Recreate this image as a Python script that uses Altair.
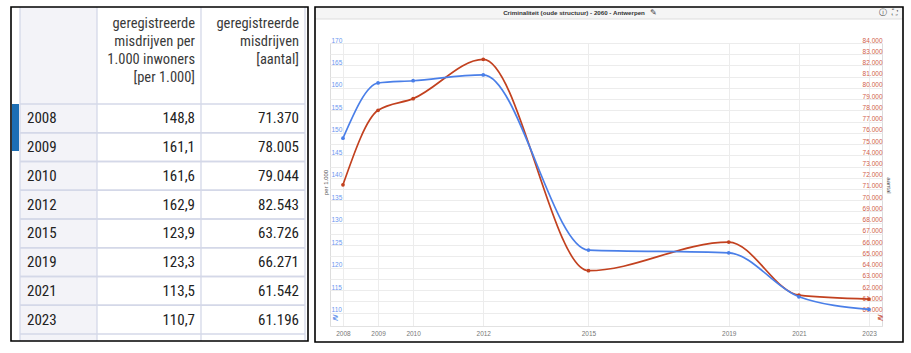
import altair as alt
import pandas as pd

# ---------------- data ----------------
years = [2008, 2009, 2010, 2012, 2015, 2019, 2021, 2023]
per_1000 = [148.8, 161.1, 161.6, 162.9, 123.9, 123.3, 113.5, 110.7]
aantal = [71370, 78005, 79044, 82543, 63726, 66271, 61542, 61196]

header_col2 = ["geregistreerde", "misdrijven per", "1.000 inwoners", "[per 1.000]"]
header_col3 = ["geregistreerde", "misdrijven", "[aantal]"]
chart_title = ["Criminaliteit (oude structuur) - 2060 - Antwerpen"]
left_title = "per 1.000"
right_title = "aantal"
left_ticks = [110, 115, 120, 125, 130, 135, 140, 145, 150, 155, 160, 165, 170]
right_ticks = [60000, 61000, 62000, 63000, 64000, 65000, 66000, 67000, 68000,
               69000, 70000, 71000, 72000, 73000, 74000, 75000, 76000, 77000,
               78000, 79000, 80000, 81000, 82000, 83000, 84000]

df = pd.DataFrame({"Jaar": years, "per1000": per_1000, "aantal": aantal})
df["per1000_txt"] = [f"{v:.1f}".replace(".", ",") for v in per_1000]
df["aantal_txt"] = [f"{v:,}".replace(",", ".") for v in aantal]
df["Jaar_txt"] = [str(y) for y in years]

one = pd.DataFrame({"k": [0]})

BLUE = "#4a7fe8"
RED = "#c2411f"
GRID = "#ececec"
TLINE = "#d4d8e8"
TFONT = "Liberation Sans Narrow, Roboto Condensed, DejaVu Sans Condensed, Roboto"
CFONT = "Liberation Sans"

# ---------------- table (left panel) ----------------
ROWY = alt.Y("Jaar:O", scale=alt.Scale(range=[61, 291], paddingInner=0, paddingOuter=0), axis=None)

col1_bg = alt.Chart(one).mark_rect(fill="#f3f3f8").encode(
    x=alt.value(-310), x2=alt.value(-233), y=alt.value(-36), y2=alt.value(298))
tab = alt.Chart(one).mark_rect(fill="#1c6eb4").encode(
    x=alt.value(-318), x2=alt.value(-311), y=alt.value(61), y2=alt.value(108))
vlines = [alt.Chart(one).mark_rule(color=TLINE, strokeWidth=1.3).encode(
    x=alt.value(xv), y=alt.value(-36), y2=alt.value(298)) for xv in (-310, -233, -129, -25)]
row_top = alt.Chart(df).mark_rule(color=TLINE, strokeWidth=1.3).encode(
    y=alt.Y("Jaar:O", bandPosition=0, scale=alt.Scale(range=[61, 291], paddingInner=0, paddingOuter=0), axis=None),
    x=alt.value(-310), x2=alt.value(-25))
row_bot = alt.Chart(df).mark_rule(color=TLINE, strokeWidth=1.3).encode(
    y=alt.Y("Jaar:O", bandPosition=1, scale=alt.Scale(range=[61, 291], paddingInner=0, paddingOuter=0), axis=None),
    x=alt.value(-310), x2=alt.value(-25))
txt_year = alt.Chart(df).mark_text(align="left", baseline="middle", fontSize=15, font=TFONT, color="#222").encode(
    x=alt.value(-303), y=ROWY, text="Jaar_txt:N")
txt_p = alt.Chart(df).mark_text(align="right", baseline="middle", fontSize=15, font=TFONT, color="#222").encode(
    x=alt.value(-135), y=ROWY, text="per1000_txt:N")
txt_a = alt.Chart(df).mark_text(align="right", baseline="middle", fontSize=15, font=TFONT, color="#222").encode(
    x=alt.value(-31), y=ROWY, text="aantal_txt:N")
hdr2 = alt.Chart(pd.DataFrame({"t": ["\n".join(header_col2)]})).mark_text(
    align="right", baseline="top", fontSize=14.5, lineHeight=18, lineBreak="\n", font=TFONT, color="#3a3a3a").encode(
    x=alt.value(-135), y=alt.value(-26), text="t:N")
hdr3 = alt.Chart(pd.DataFrame({"t": ["\n".join(header_col3)]})).mark_text(
    align="right", baseline="top", fontSize=14.5, lineHeight=18, lineBreak="\n", font=TFONT, color="#3a3a3a").encode(
    x=alt.value(-31), y=alt.value(-26), text="t:N")
table_frame = alt.Chart(one).mark_rect(fillOpacity=0, stroke="black", strokeWidth=1.6).encode(
    x=alt.value(-319), x2=alt.value(-22), y=alt.value(-36), y2=alt.value(298))

table = alt.layer(col1_bg, tab, *vlines, row_top, row_bot, txt_year, txt_p, txt_a, hdr2, hdr3, table_frame)

# ---------------- chart (right panel) ----------------
head_band = alt.Chart(one).mark_rect(fill="#f5f5f5").encode(
    x=alt.value(-15), x2=alt.value(573), y=alt.value(-36), y2=alt.value(-24))
head_line = alt.Chart(one).mark_rule(color="#dddddd").encode(
    x=alt.value(-15), x2=alt.value(573), y=alt.value(-24))
title_txt = alt.Chart(pd.DataFrame({"t": chart_title})).mark_text(
    fontSize=6.2, fontWeight="bold", font=CFONT, color="#333").encode(
    x=alt.value(244), y=alt.value(-30), text="t:N")
pencil = alt.Chart(pd.DataFrame({"t": ["✎"]})).mark_text(fontSize=8, color="#444").encode(
    x=alt.value(323), y=alt.value(-30), text="t:N")
info = alt.Chart(pd.DataFrame({"t": ["ⓘ"]})).mark_text(fontSize=8, color="#444").encode(
    x=alt.value(553), y=alt.value(-30), text="t:N")
full = alt.Chart(pd.DataFrame({"t": ["⛶"]})).mark_text(fontSize=8, color="#444").encode(
    x=alt.value(565), y=alt.value(-30), text="t:N")
brk_l = alt.Chart(pd.DataFrame({"t": ["≷"]})).mark_text(fontSize=8, color=BLUE).encode(
    x=alt.value(5), y=alt.value(275), text="t:N")
brk_r = alt.Chart(pd.DataFrame({"t": ["≷"]})).mark_text(fontSize=8, color=RED).encode(
    x=alt.value(550), y=alt.value(275), text="t:N")
chart_frame = alt.Chart(one).mark_rect(fillOpacity=0, stroke="black", strokeWidth=1.6).encode(
    x=alt.value(-15), x2=alt.value(573), y=alt.value(-36), y2=alt.value(299))

X = alt.X("Jaar:Q",
          scale=alt.Scale(domain=[2007.63, 2023.37], nice=False, zero=False),
          axis=alt.Axis(values=years, format="d", grid=True, gridColor=GRID, domainColor="#e2e2e2",
                        ticks=False, labelPadding=4, labelFontSize=6.5, labelColor="#777",
                        labelFont=CFONT, title=None))

blue_base = alt.Chart(df).encode(
    x=X,
    y=alt.Y("per1000:Q",
            scale=alt.Scale(domain=[107, 170], nice=False, zero=False),
            axis=alt.Axis(orient="left", values=left_ticks, grid=False, ticks=False, domain=False,
                          labelAlign="left", labelPadding=-1, labelBaseline="bottom",
                          labelColor="#6b97f0", labelFontSize=6.5, labelFont=CFONT,
                          title=left_title, titleAngle=-90, titleX=-5, titleY=139,
                          titleBaseline="middle", titleAlign="center",
                          titleFontSize=6, titleFontWeight="normal", titleColor="#555", titleFont=CFONT)))
blue = alt.layer(
    blue_base.mark_line(interpolate="monotone", color=BLUE, strokeWidth=1.7),
    blue_base.mark_point(filled=True, size=14, color=BLUE, opacity=1),
)

red_base = alt.Chart(df).encode(
    x=X,
    y=alt.Y("aantal:Q",
            scale=alt.Scale(domain=[58800, 84000], nice=False, zero=False),
            axis=alt.Axis(orient="right", values=right_ticks, grid=True, gridColor=GRID, ticks=False,
                          domain=False, labelAlign="right", labelPadding=0, labelBaseline="bottom",
                          labelExpr="replace(format(datum.value, ','), ',', '.')",
                          labelColor="#d0604a", labelFontSize=6.5, labelFont=CFONT,
                          title=right_title, titleAngle=90, titleX=6, titleY=142,
                          titleBaseline="middle", titleAlign="center",
                          titleFontSize=6, titleFontWeight="normal", titleColor="#555", titleFont=CFONT)))
red = alt.layer(
    red_base.mark_line(interpolate="monotone", color=RED, strokeWidth=1.7),
    red_base.mark_point(filled=True, size=14, color=RED, opacity=1),
)

chart = alt.layer(
    table, head_band, head_line, title_txt, pencil, info, full, brk_l, brk_r,
    red, blue, chart_frame
).resolve_scale(y="independent").properties(
    width=552, height=283,
    padding={"left": 330, "top": 43, "right": 29, "bottom": 27},
    autosize=alt.AutoSizeParams(type="none"),
).configure_view(stroke=None).configure(background="white")

chart.save("out.html", embed_options={"renderer": "svg", "actions": False})
